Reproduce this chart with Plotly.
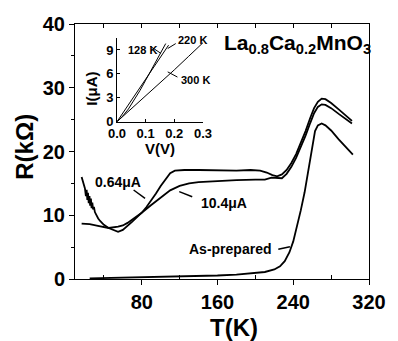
import plotly.graph_objects as go

# ---------------- data ----------------
T_064 = [16.5, 18, 20, 21, 21.8, 22.5, 23.2, 24, 24.8, 25.5, 26.3, 27, 27.8, 28.6, 29.5, 30.5, 32, 34, 36, 40, 45, 50, 55, 60, 65, 70, 75, 80, 85, 90, 95, 100, 105, 110, 115, 125, 140, 160, 180, 195, 205, 212, 218, 223, 228, 233, 238, 243, 248, 253, 258, 262, 266, 270, 274, 280, 288, 296, 302]
R_064 = [16.0, 15.2, 14.2, 13.0, 14.0, 12.4, 13.5, 11.9, 13.0, 11.5, 12.6, 11.1, 12.0, 10.9, 11.3, 10.5, 10.0, 9.5, 9.1, 8.5, 8.0, 7.7, 7.4, 7.7, 8.3, 9.0, 9.7, 10.4, 11.3, 12.3, 13.4, 14.6, 15.7, 16.6, 17.0, 17.1, 17.1, 17.0, 17.0, 17.1, 17.0, 16.7, 16.3, 16.1, 16.4, 17.1, 18.2, 19.6, 21.3, 23.2, 25.3, 26.8, 27.8, 28.3, 28.2, 27.6, 26.6, 25.5, 24.8]

T_104 = [16.5, 25, 35, 45, 55, 60, 65, 70, 75, 80, 90, 100, 110, 120, 130, 140, 160, 180, 200, 210, 217, 222, 228, 233, 238, 243, 248, 253, 258, 262, 266, 270, 274, 280, 288, 296, 302]
R_104 = [8.7, 8.6, 8.3, 8.0, 8.2, 8.4, 8.8, 9.3, 9.8, 10.4, 11.6, 12.8, 13.9, 14.6, 15.0, 15.2, 15.4, 15.5, 15.6, 15.6, 15.9, 15.9, 15.8, 16.5, 17.6, 19.0, 20.7, 22.5, 24.5, 26.0, 27.0, 27.4, 27.3, 26.8, 25.9, 25.0, 24.4]

T_asp = [25, 40, 60, 80, 100, 120, 140, 160, 180, 200, 210, 220, 226, 231, 236, 240, 244, 248, 252, 256, 260, 263, 266, 270, 274, 280, 288, 296, 303]
R_asp = [0.1, 0.15, 0.2, 0.25, 0.3, 0.35, 0.45, 0.55, 0.7, 0.9, 1.1, 1.5, 2.0, 2.8, 4.2, 5.9, 8.2, 10.8, 13.6, 17.0, 21.0, 23.2, 24.1, 24.4, 24.1, 23.3, 21.9, 20.6, 19.5]

V_128 = [0, 0.02, 0.04, 0.06, 0.08, 0.10, 0.12, 0.14, 0.16, 0.17]
I_128 = [0, 0.7, 1.6, 2.7, 3.9, 5.2, 6.5, 7.8, 9.1, 9.8]
V_220 = [0, 0.03, 0.06, 0.09, 0.12, 0.15, 0.18]
I_220 = [0, 1.6, 3.2, 4.8, 6.4, 8.0, 9.6]
V_300 = [0, 0.05, 0.10, 0.15, 0.20, 0.25, 0.30]
I_300 = [0, 1.6, 3.2, 4.9, 6.5, 8.2, 9.9]

x_major = [80, 160, 240, 320]
x_minor = [40, 120, 200, 280]
y_major = [0, 10, 20, 30, 40]
y_minor = [5, 15, 25, 35]
ix_ticks = [0, 0.1, 0.2, 0.3]
ix_text = ["0.0", "0.1", "0.2", "0.3"]
iy_ticks = [0, 3, 6, 9]

# ---------------- figure ----------------
FONT = "Liberation Sans"
W, H = 398, 341
L, R, TOP, B = 75, 22, 24, 62
pw, ph = W - L - R, H - TOP - B

def px(x):
    return (x - L) / pw

def py(y):
    return (H - B - y) / ph

fig = go.Figure()
line = dict(color="black", width=1.8)
fig.add_trace(go.Scatter(x=T_064, y=R_064, mode="lines", line=line, xaxis="x", yaxis="y"))
fig.add_trace(go.Scatter(x=T_104, y=R_104, mode="lines", line=line, xaxis="x", yaxis="y"))
fig.add_trace(go.Scatter(x=T_asp, y=R_asp, mode="lines", line=line, xaxis="x", yaxis="y"))
# invisible trace for top tick axis
fig.add_trace(go.Scatter(x=[100], y=[0], mode="markers", marker=dict(opacity=0), xaxis="x3", yaxis="y", hoverinfo="skip"))

iline = dict(color="black", width=1)
fig.add_trace(go.Scatter(x=V_128, y=I_128, mode="lines", line=iline, xaxis="x2", yaxis="y2"))
fig.add_trace(go.Scatter(x=V_220, y=I_220, mode="lines", line=iline, xaxis="x2", yaxis="y2"))
fig.add_trace(go.Scatter(x=V_300, y=I_300, mode="lines", line=iline, xaxis="x2", yaxis="y2"))

tf = dict(family=FONT, size=20, color="black", weight="bold")
itf = dict(family=FONT, size=13, color="black", weight="bold")

fig.update_layout(
    width=W, height=H, margin=dict(l=L, r=R, t=TOP, b=B),
    paper_bgcolor="white", plot_bgcolor="white", showlegend=False,
    xaxis=dict(range=[9.5, 320], showline=True, linecolor="black", linewidth=1, mirror=True,
               showgrid=False, zeroline=False, tickvals=x_major, ticks="outside", ticklen=5,
               tickcolor="black", tickfont=tf,
               minor=dict(tickvals=x_minor, ticks="inside", ticklen=4, tickcolor="black")),
    xaxis3=dict(range=[9.5, 320], overlaying="x", side="top", anchor="y", showline=False,
                showgrid=False, zeroline=False, tickvals=x_major + x_minor, ticks="inside",
                ticklen=4, tickcolor="black", showticklabels=False),
    yaxis=dict(range=[0, 40], showline=True, linecolor="black", linewidth=1, mirror=True,
               showgrid=False, zeroline=False, tickvals=y_major, ticks="outside", ticklen=5,
               tickcolor="black", tickfont=tf,
               minor=dict(tickvals=y_minor, ticks="outside", ticklen=3, tickcolor="black")),
    xaxis2=dict(domain=[px(118), px(206)], anchor="y2", range=[0, 0.3], showline=True,
                linecolor="black", linewidth=1, showgrid=False, zeroline=False,
                tickvals=ix_ticks, ticktext=ix_text, ticks="inside", ticklen=3,
                tickcolor="black", tickfont=itf, ticklabelstandoff=0),
    yaxis2=dict(domain=[py(121.7), py(38)], anchor="x2", range=[0, 10.5], showline=True,
                linecolor="black", linewidth=1, showgrid=False, zeroline=False,
                tickvals=iy_ticks, ticks="inside", ticklen=3, tickcolor="black", tickfont=itf,
                ticklabelstandoff=0),
)

ann = []
def text(x, y, s, size, xanchor="center", yanchor="middle", ref="paper", angle=0):
    d = dict(x=x, y=y, text=s, showarrow=False, xanchor=xanchor, yanchor=yanchor,
             font=dict(family=FONT, size=size, color="black", weight="bold"), textangle=angle)
    if ref == "paper":
        d.update(xref="paper", yref="paper")
    elif ref == "main":
        d.update(xref="x", yref="y")
    else:
        d.update(xref="x2", yref="y2")
    ann.append(d)

text(px(238), py(327), "T(K)", 24)
text(px(23), py(146.5), "R(kΩ)", 24, angle=-90)
text(px(225), py(44), "La<sub>0.8</sub>Ca<sub>0.2</sub>MnO<sub>3</sub>", 21, xanchor="left")
text(px(162), py(148), "V(V)", 15)
text(px(91), py(89), "I(μA)", 15, angle=-90)

text(28.1, 15.26, "0.64μA", 14, xanchor="left", ref="main")
text(140.6, 11.9, "10.4μA", 14, xanchor="left", ref="main")
text(219, 4.7, "As-prepared", 14, xanchor="right", ref="main")

text(0.03, 9.0, "128 K", 11, xanchor="left", ref="inset")
text(0.205, 10.2, "220 K", 11, xanchor="left", ref="inset")
text(0.217, 5.2, "300 K", 11, xanchor="left", ref="inset")
fig.update_layout(annotations=ann)

# leader lines
leaders_main = [((71.4, 13.96), (83.5, 12.66)), ((119.6, 13.7), (133.3, 12.9)), ((224.2, 4.66), (236.5, 5.07))]
for (x0, y0), (x1, y1) in leaders_main:
    fig.add_shape(type="line", xref="x", yref="y", x0=x0, y0=y0, x1=x1, y1=y1,
                  line=dict(color="black", width=1.5))
leaders_inset = [((0.116, 9.46), (0.153, 8.58)), ((0.205, 9.8), (0.177, 9.18)), ((0.211, 5.6), (0.177, 6.25))]
for (x0, y0), (x1, y1) in leaders_inset:
    fig.add_shape(type="line", xref="x2", yref="y2", x0=x0, y0=y0, x1=x1, y1=y1,
                  line=dict(color="black", width=1))

fig.write_html("out.html")
